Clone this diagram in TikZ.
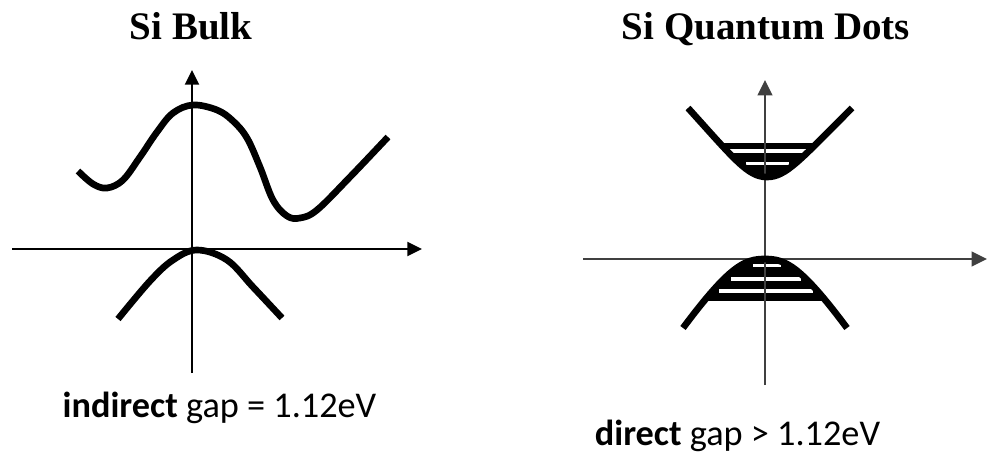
\documentclass[tikz,border=0pt]{standalone}
\usepackage{fontspec}
\setmainfont{Liberation Serif}
\newfontfamily\calfont{Carlito}
\usetikzlibrary{arrows.meta}
\begin{document}
\begin{tikzpicture}[x=0.75pt,y=-0.75pt,
  axis/.style={draw=black, line width=1.5pt, -{Triangle[length=11pt,width=10.5pt]}},
  qaxis/.style={draw=black!75, line width=1.6pt, -{Triangle[length=11.5pt,width=11pt]}},
  band/.style={line width=5pt, line cap=butt, line join=round},
  stripe/.style={draw=white, line width=2.4pt},
  title/.style={anchor=base, font=\bfseries\fontsize{29.25}{35}\selectfont},
  caption/.style={anchor=base, font=\calfont\fontsize{27.2}{33}\selectfont}]
\useasboundingbox (0,0) rectangle (988,453);

% titles
\node[title] (t1) at (191,40) {Si Bulk};
\node[title] (t2) at (766,40) {Si Quantum Dots};

% ---------- Si bulk ----------
\coordinate (bx0) at (12,249);
\coordinate (bx1) at (422,249);
\coordinate (by0) at (192,373);
\coordinate (by1) at (192,70);
\draw[axis] (bx0) -- (bx1);
\draw[axis] (by0) -- (by1);

\draw[band] plot[smooth, tension=0.6] coordinates {
  (78,171) (93,184) (107,188) (123,180) (140,157) (157,132) (173,113)
  (193,105) (217,110) (233,121) (247,138) (260,167) (273,200) (287,216)
  (300,218) (317,210) (350,177) (388,137)};

\draw[band] plot[smooth, tension=0.6] coordinates {
  (118,319) (150,281) (173,260) (197,250) (227,260) (253,287) (282,318)};

\node[caption] (c1) at (219.5,417) {\textbf{indirect} gap = 1.12eV};

% ---------- Si quantum dots ----------
\coordinate (qx0) at (583,259);
\coordinate (qx1) at (987,259);
\coordinate (qy0) at (765,385);
\coordinate (qy1) at (765,80);

% conduction band with levels
\begin{scope}
  \clip (688,108) .. controls (735,160) and (748,177) .. (767,177)
        .. controls (786,177) and (800,160) .. (852,108) -- cycle;
  \fill[black] (680,143) rectangle (860,190);
  \draw[stripe] (725,151) -- (812,151);
  \draw[stripe] (746,163.5) -- (789,163.5);
\end{scope}
\fill[black] (730,142.5) rectangle (811,148.5);

% valence band with levels
\begin{scope}
  \clip (683,328) .. controls (730,265) and (745,259) .. (765,259)
        .. controls (785,259) and (800,265) .. (847,328) -- cycle;
  \fill[black] (680,250) rectangle (850,301);
  \draw[stripe] (753,265.5) -- (781,265.5);
  \draw[stripe, line width=3pt] (731,279) -- (801,279);
  \draw[stripe, line width=3pt] (719,291) -- (813,291);
\end{scope}
\fill[black] (715,294.5) rectangle (817,301);

\draw[qaxis] (qx0) -- (qx1);
\draw[qaxis] (qy0) -- (qy1);

\draw[band] (688,108) .. controls (735,160) and (748,177) .. (767,177)
        .. controls (786,177) and (800,160) .. (852,108);
\draw[band] (683,328) .. controls (730,265) and (745,259) .. (765,259)
        .. controls (785,259) and (800,265) .. (847,328);

\node[caption] (c2) at (737.5,445) {\textbf{direct} gap > 1.12eV};
\end{tikzpicture}
\end{document}
